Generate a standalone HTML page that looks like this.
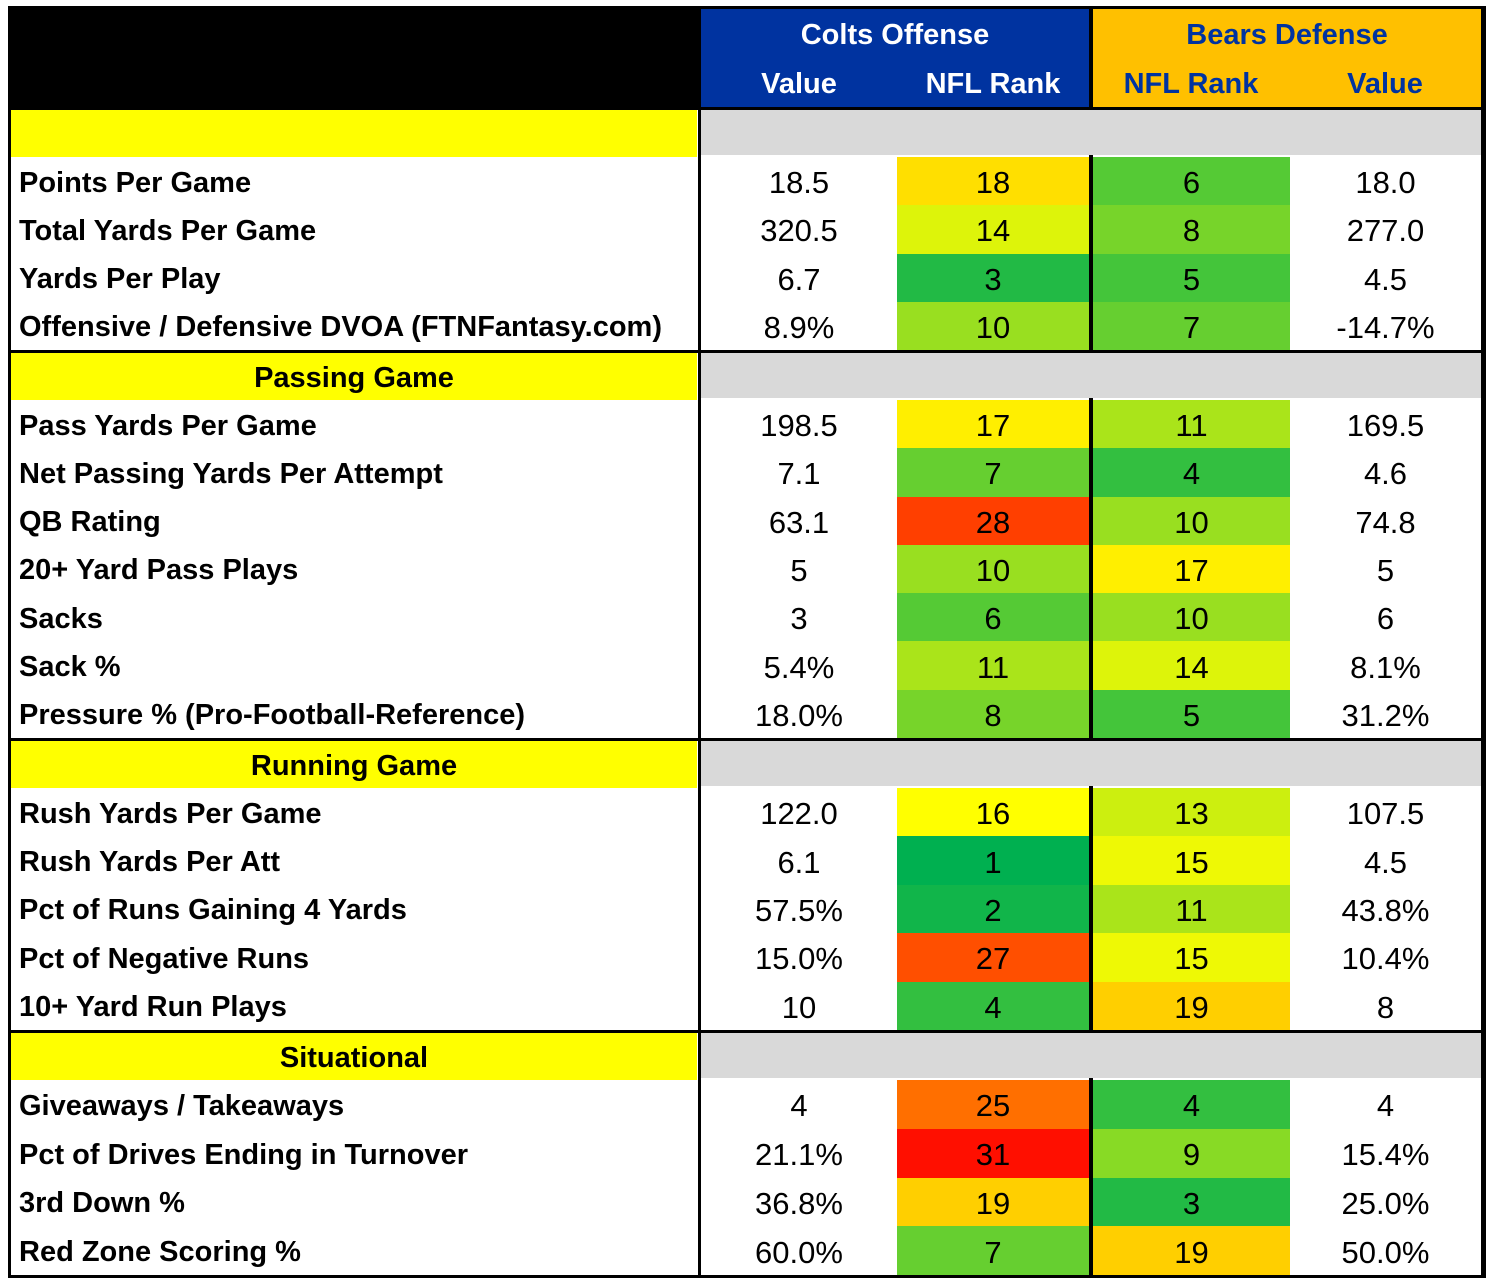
<!DOCTYPE html>
<html><head><meta charset="utf-8"><style>
body{margin:0;background:#fff;width:1494px;height:1288px;position:relative;overflow:hidden;font-family:"Liberation Sans",sans-serif}
.c{position:absolute;display:flex;align-items:center;justify-content:center;font-size:31px;color:#000;box-sizing:border-box;padding-top:4px}
.l{justify-content:flex-start;padding-left:8px;font-weight:bold;font-size:29px}
.h{color:#fff;font-weight:bold;font-size:29px}
.b{position:absolute;background:#000}
</style></head><body>
<div id="t"></div>
<script>
const labels=["Points Per Game","Total Yards Per Game","Yards Per Play","Offensive / Defensive DVOA (FTNFantasy.com)","Pass Yards Per Game","Net Passing Yards Per Attempt","QB Rating","20+ Yard Pass Plays","Sacks","Sack %","Pressure % (Pro-Football-Reference)","Rush Yards Per Game","Rush Yards Per Att","Pct of Runs Gaining 4 Yards","Pct of Negative Runs","10+ Yard Run Plays","Giveaways / Takeaways","Pct of Drives Ending in Turnover","3rd Down %","Red Zone Scoring %"];
const coltsValue=["18.5","320.5","6.7","8.9%","198.5","7.1","63.1","5","3","5.4%","18.0%","122.0","6.1","57.5%","15.0%","10","4","21.1%","36.8%","60.0%"];
const coltsRank=[18,14,3,10,17,7,28,10,6,11,8,16,1,2,27,4,25,31,19,7];
const bearsRank=[6,8,5,7,11,4,10,17,10,14,5,13,15,11,15,19,4,9,3,19];
const bearsValue=["18.0","277.0","4.5","-14.7%","169.5","4.6","74.8","5","6","8.1%","31.2%","107.5","4.5","43.8%","10.4%","8","4","15.4%","25.0%","50.0%"];
const sections=["","Passing Game","Running Game","Situational"];
const sectionCounts=[4,7,5,4];
const T=document.getElementById('t');
function col(r){let R,G,B;if(r<=16){const t=(r-1)/15;R=255*t;G=176+79*t;B=80*(1-t);}else{const t=(r-16)/16;R=255;G=255*(1-t);B=0;}return `rgb(${R|0},${G|0},${B|0})`;}
function box(x,y,w,h,bg,txt,cls,name){const d=document.createElement('div');d.className=cls||'c';d.style.cssText=`left:${x}px;top:${y}px;width:${w}px;height:${h}px;background:${bg}`;if(txt!==undefined)d.textContent=txt;


T.appendChild(d);return d;}
box(8,6,1478,1272,'#000',undefined,'b','table-border');
box(11,9,1470,1266,'#fff',undefined,'c','table-body');
box(11,9,688,98,'#000',undefined,'c','header-blank');
box(701,9,388,98,'#0033a0',undefined,'c','colts-header');
box(1093,9,388,98,'#ffc000',undefined,'c','bears-header');
box(701,10,388,46,'transparent','Colts Offense','c h','colts-offense-title');
box(1093,10,388,46,'transparent','Bears Defense','c h','bears-defense-title').style.color='#0033a0';
box(701,58,196,48,'transparent','Value','c h','colts-value-header');
box(897,58,192,48,'transparent','NFL Rank','c h','colts-rank-header');
let bh=box(1093,58,196,48,'transparent','NFL Rank','c h','bears-rank-header');bh.style.color='#0033a0';
bh=box(1289,58,192,48,'transparent','Value','c h','bears-value-header');bh.style.color='#0033a0';
box(11,107,1470,3,'#000',undefined,'b','header-line');
const secTops=[110,353,741,1033],secEnds=[350,738,1030,1275];
let i=0;
sections.forEach((s,si)=>{const y0=secTops[si];
box(11,y0,686,47,'#ffff00',s,'c l','section-'+(s||'blank').toLowerCase().replace(/ /g,'-')).style.cssText+=';justify-content:center;padding-left:0';
box(701,y0,780,45,'#d9d9d9',undefined,'c','section-gray-band');
const n=sectionCounts[si];const top=y0+47;const rh=(secEnds[si]-top)/n;
for(let k=0;k<n;k++,i++){const y=top+k*rh;
box(11,y,686,rh,'#fff',labels[i],'c l','row-label');
box(701,y,196,rh,'#fff',coltsValue[i],'c','colts-value');
box(897,y,192,rh,col(coltsRank[i]),String(coltsRank[i]),'c','colts-rank');
box(1093,y,197,rh,col(bearsRank[i]),String(bearsRank[i]),'c','bears-rank');
box(1290,y,191,rh,'#fff',bearsValue[i],'c','bears-value');}
if(si<3)box(11,secEnds[si],1470,3,'#000',undefined,'b','section-line');
box(1089,y0+45,4,secEnds[si]-y0-45,'#000',undefined,'b','team-divider');
});
box(698,9,3,1266,'#000',undefined,'b','label-divider');
box(1089,9,4,98,'#000',undefined,'b','header-divider');
</script>
</body></html>
